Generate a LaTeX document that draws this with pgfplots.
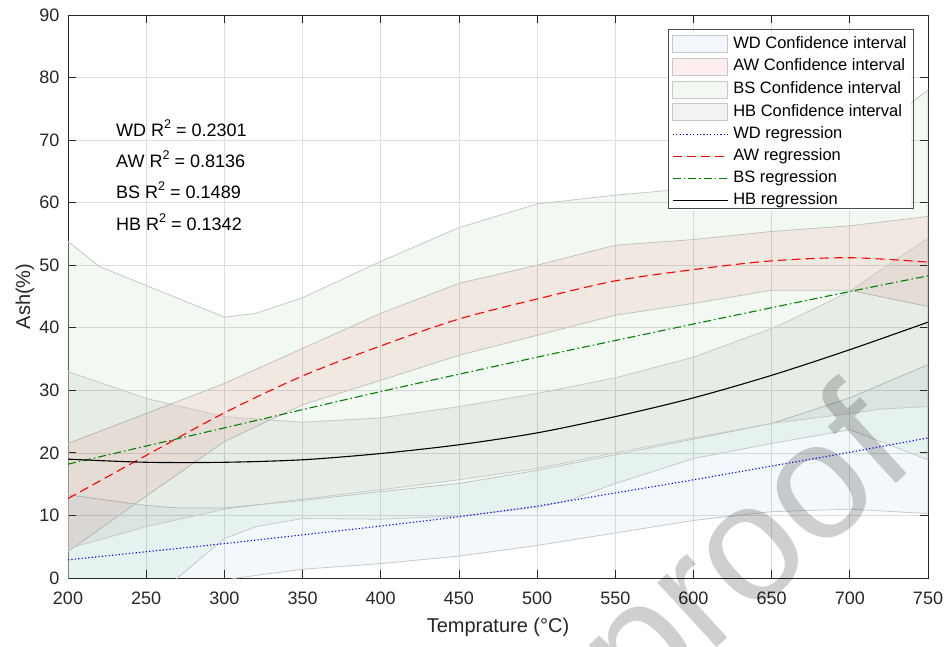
\documentclass[border=0pt]{standalone}
\usepackage{fontspec}
\setmainfont{Liberation Sans}
\usepackage{pgfplots}
\pgfplotsset{compat=1.18}

\definecolor{axgray}{RGB}{38,38,38}
\definecolor{gridc}{RGB}{222,222,222}
\definecolor{edgec}{RGB}{200,200,200}
\definecolor{wdfill}{rgb}{0,0.447,0.741}
\definecolor{bsgreen}{rgb}{0,0.5,0}
\definecolor{awred}{rgb}{1,0,0}
\definecolor{wdblue}{rgb}{0,0,1}

\tikzset{
  wdline/.style={line width=1.1pt, color=wdblue, dash pattern=on 1.2pt off 2.2pt},
  awline/.style={line width=1.1pt, color=awred, dash pattern=on 9pt off 5pt},
  bsline/.style={line width=1.1pt, color=bsgreen, dash pattern=on 8pt off 3pt on 1.5pt off 3pt},
  hbline/.style={line width=1.1pt, color=black},
}
\pgfplotsset{
  band/.style={draw=edgec, line width=0.8pt, fill=#1, fill opacity=0.05,
    legend image code/.code={\draw[##1] (0pt,-8.5pt) rectangle (55pt,8.5pt);}},
}

\begin{document}
\begin{tikzpicture}[x=1pt,y=1pt]
\useasboundingbox (0,0) rectangle (947,646);
\begin{axis}[
  at={(68pt,68pt)}, anchor=south west,
  scale only axis, width=860pt, height=563pt,
  xmin=200, xmax=750, ymin=0, ymax=90,
  xtick={200,250,...,750}, ytick={0,10,...,90},
  grid=major, major grid style={gridc, line width=0.7pt},
  axis line style={axgray, line width=0.8pt},
  tick style={axgray, line width=0.8pt},
  tick align=inside, major tick length=8pt,
  xtick pos=both, ytick pos=both,
  /pgf/number format/assume math mode=true,
  tick label style={font=\fontsize{18}{21}\selectfont, text=axgray},
  xticklabel style={yshift=-10pt},
  yticklabel style={xshift=-5pt},
  xlabel={Temprature (°C)},
  ylabel={Ash(\%)},
  xlabel style={at={(axis description cs:0.5,-0.087)}, anchor=center, font=\fontsize{20}{24}\selectfont, text=axgray},
  ylabel style={at={(axis description cs:-0.05,0.5)}, anchor=center, font=\fontsize{20}{24}\selectfont, text=axgray},
  legend cell align=left,
  legend style={at={(axis description cs:0.6977,0.968)}, anchor=north west,
    draw=none, fill=white, fill opacity=1, text opacity=1,
    font=\fontsize{16.5}{19}\selectfont,
    inner xsep=4pt, inner ysep=2pt, row sep=4.9pt, column sep=5pt,
    nodes={inner sep=0pt, text height=12.5pt, text depth=4.5pt}},
]
% confidence bands
\addplot[band=wdfill] coordinates {
 (200,13.3)(250,11.6)(270,11.2)(300,11.2)(350,12.4)(400,13.8)(450,15.1)(500,17.2)(550,19.7)(600,22.2)(650,24.7)(700,28.8)(750,34.1)
 (750,10.3)(700,11.0)(650,10.6)(600,9.2)(550,7.2)(500,5.2)(450,3.5)(400,2.3)(350,1.4)(308,0)(250,-3)(200,-6)
} -- cycle;
\addlegendentry{WD Confidence interval}
\addplot[band=awred, fill opacity=0.065] coordinates {
 (200,21.5)(250,26.3)(300,31.1)(350,36.7)(400,42.3)(450,47.1)(500,50.0)(550,53.2)(600,54.1)(650,55.4)(700,56.3)(750,57.8)
 (750,43.4)(700,46.0)(650,46.0)(600,43.9)(550,42.0)(500,38.8)(450,35.6)(400,31.6)(350,27.7)(300,21.8)(250,13.1)(200,4.2)
} -- cycle;
\addlegendentry{AW Confidence interval}
\addplot[band=bsgreen] coordinates {
 (200,53.8)(220,49.8)(300,41.7)(320,42.3)(350,44.8)(400,50.6)(450,56.0)(500,59.8)(550,61.2)(600,62.3)(650,64.0)(700,68.3)(740,76.1)(750,78.0)
 (750,18.9)(700,23.7)(650,21.5)(600,19.1)(550,15.1)(520,12.4)(500,11.3)(450,9.9)(400,9.4)(350,9.5)(320,8.2)(300,6.3)(270,0)(200,-15)
} -- cycle;
\addlegendentry{BS Confidence interval}
\addplot[band=black] coordinates {
 (200,33.0)(250,28.7)(300,25.8)(350,24.9)(400,25.6)(450,27.4)(500,29.5)(550,32.0)(600,35.3)(650,39.9)(660,41.0)(700,45.8)(720,49.3)(750,54.3)
 (750,27.4)(720,27.0)(700,26.3)(650,24.7)(600,22.4)(550,20.0)(500,17.5)(450,15.7)(400,14.1)(350,12.6)(300,11.0)(250,8.2)(200,4.7)
} -- cycle;
\addlegendentry{HB Confidence interval}
% regressions
\addplot[wdline, smooth, legend image code/.code={\draw[wdline] (0pt,0pt) -- (55pt,0pt);}] coordinates {
 (200,2.9)(250,4.2)(300,5.5)(350,6.9)(400,8.3)(450,9.8)(500,11.5)(550,13.6)(600,15.7)(650,17.9)(700,20.1)(750,22.4)};
\addlegendentry{WD regression}
\addplot[awline, smooth, legend image code/.code={\draw[awline] (0pt,0pt) -- (55pt,0pt);}] coordinates {
 (200,12.7)(250,19.6)(300,26.4)(350,32.3)(400,37.1)(450,41.4)(500,44.6)(550,47.5)(600,49.3)(650,50.7)(700,51.2)(750,50.5)};
\addlegendentry{AW regression}
\addplot[bsline, smooth, legend image code/.code={\draw[bsline] (0pt,0pt) -- (55pt,0pt);}] coordinates {
 (200,18.2)(300,24.0)(400,29.8)(500,35.3)(600,40.6)(700,45.8)(750,48.3)};
\addlegendentry{BS regression}
\addplot[hbline, smooth, legend image code/.code={\draw[hbline] (0pt,0pt) -- (55pt,0pt);}] coordinates {
 (200,19.0)(250,18.5)(300,18.5)(350,18.9)(400,19.9)(450,21.3)(500,23.2)(550,25.8)(600,28.8)(650,32.4)(700,36.5)(750,40.9)};
\addlegendentry{HB regression}
% R^2 annotations
\begin{scope}[every node/.style={anchor=base west, inner sep=0pt, font=\fontsize{18}{21}\selectfont}]
\node at (axis cs:230.7,70.5) {WD R\raisebox{8pt}{\fontsize{12.6}{13}\selectfont 2} = 0.2301};
\node at (axis cs:230.7,65.6) {AW R\raisebox{8pt}{\fontsize{12.6}{13}\selectfont 2} = 0.8136};
\node at (axis cs:230.7,60.6) {BS R\raisebox{8pt}{\fontsize{12.6}{13}\selectfont 2} = 0.1489};
\node at (axis cs:230.7,55.6) {HB R\raisebox{8pt}{\fontsize{12.6}{13}\selectfont 2} = 0.1342};
\end{scope}
\end{axis}
% legend frame
\draw[black!70, line width=0.7pt] (668,438) rectangle (913,617);
% watermark
\begin{scope}
\clip (0,0) rectangle (947,646);
\node[anchor=base west, inner sep=0pt, rotate=42.4, text=black, opacity=0.19,
  font=\fontsize{166}{166}\selectfont] at (640,-72) {proof};
\end{scope}
\end{tikzpicture}
\end{document}
